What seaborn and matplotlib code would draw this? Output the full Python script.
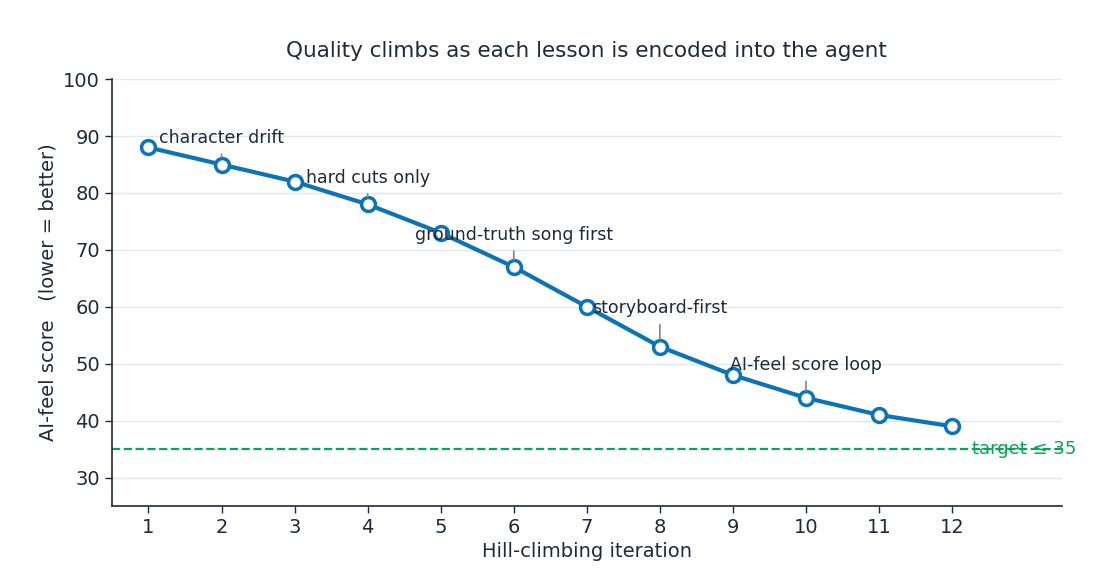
import numpy as np
import pandas as pd
import matplotlib
matplotlib.use("Agg")
import matplotlib.pyplot as plt
import seaborn as sns

# data
iterations = [1, 2, 3, 4, 5, 6, 7, 8, 9, 10, 11, 12]
scores = [88, 85, 82, 78, 73, 67, 60, 53, 48, 44, 41, 39]
lesson_iters = [2, 4, 6, 8, 10]
lesson_labels = ["character drift", "hard cuts only", "ground-truth song first",
                 "storyboard-first", "AI-feel score loop"]
target = 35

# label lift above each point (data units)
label_lift = {2: 4.7, 4: 4.7, 6: 5.7, 8: 6.8, 10: 5.8}

INK = "#1f2a3c"
BLUE = "#0b74b8"
GREEN = "#0aa35a"

sns.set_theme(style="white")
plt.rcParams['font.family'] = ['DejaVu Sans']

df = pd.DataFrame({"iteration": iterations, "score": scores})

fig = plt.figure(figsize=(11.14, 5.82), dpi=100)
ax = fig.add_axes([0.1005, 0.1306, 0.8525, 0.7334])

ax.yaxis.grid(True, color="#e3e7ee", linewidth=1)
ax.set_axisbelow(True)

sns.lineplot(data=df, x="iteration", y="score", ax=ax, color=BLUE, linewidth=3,
             marker="o", markersize=10, markerfacecolor="white",
             markeredgecolor=BLUE, markeredgewidth=2.5, zorder=3)

ax.axhline(target, color=GREEN, linestyle="--", linewidth=1.6, zorder=2)
ax.text(12.27, target, f"target \u2264 {target}", color=GREEN, fontsize=13,
        va="center", ha="left", zorder=4)

for it, lab in zip(lesson_iters, lesson_labels):
    y = scores[iterations.index(it)]
    ax.annotate(lab, xy=(it, y), xytext=(it, y + label_lift[it]),
                ha="center", va="center", fontsize=12.5, color=INK, zorder=5,
                arrowprops=dict(arrowstyle="-", color="#7d8594", lw=1.2,
                                shrinkA=3, shrinkB=5))

ax.set_xlim(0.5, 13.5)
ax.set_ylim(25, 100)
ax.set_xticks(iterations)
ax.set_yticks(range(30, 101, 10))
ax.tick_params(axis="both", labelsize=14, colors=INK, length=5, width=1,
               direction="out", left=True, bottom=True)
for s in ["top", "right"]:
    ax.spines[s].set_visible(False)
for s in ["left", "bottom"]:
    ax.spines[s].set_color(INK)
    ax.spines[s].set_linewidth(1.2)

ax.set_xlabel("Hill-climbing iteration", fontsize=14, color=INK)
ax.set_ylabel("AI-feel score   (lower = better)", fontsize=14, color=INK)
ax.set_title("Quality climbs as each lesson is encoded into the agent",
             fontsize=15.5, color=INK, pad=16)

fig.savefig("out.png", dpi=100)
plt.close(fig)
